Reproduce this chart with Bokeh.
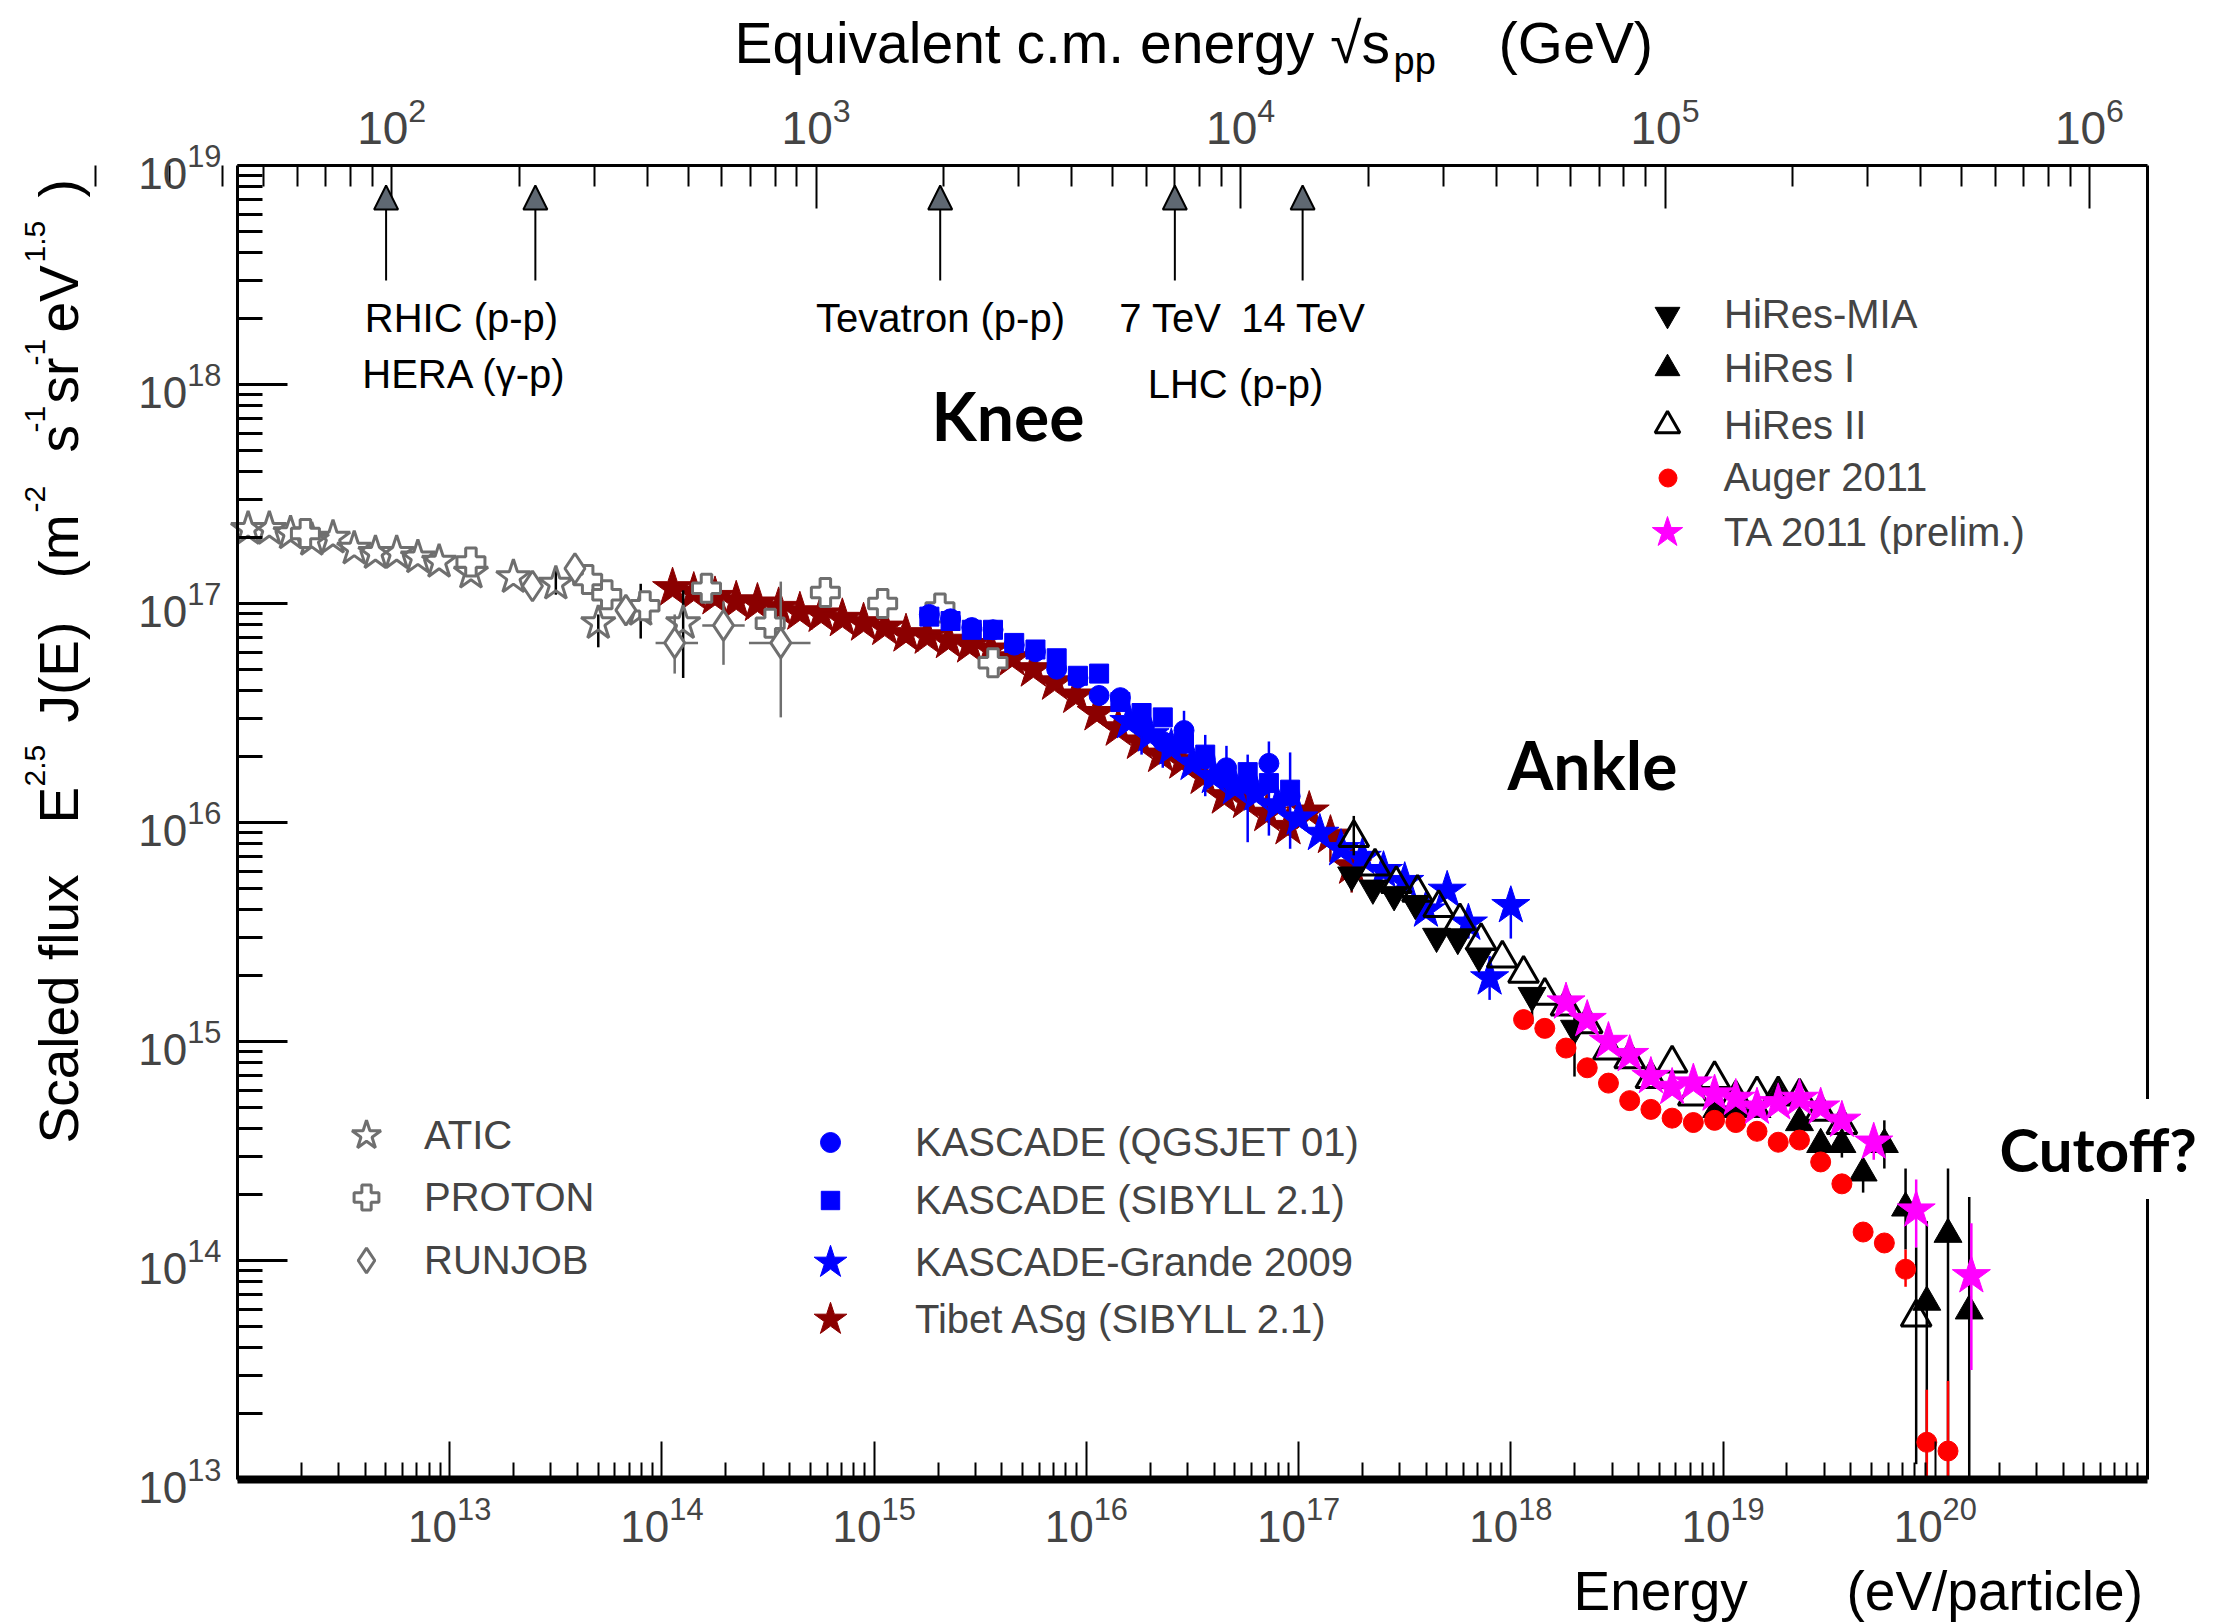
import numpy as np
from bokeh.plotting import figure
from bokeh.models import (Range1d, LogScale, LogAxis, LinearAxis, FixedTicker, ColumnDataSource,
                          Label, Legend, LegendItem, Arrow, NormalHead)
from bokeh.embed import file_html
from bokeh.resources import INLINE

# ---------------- data (log10 of energy in eV, log10 of E^2.5 J(E)) ----------------
atic_log10E = [12.05, 12.15, 12.25, 12.35, 12.45, 12.55, 12.65, 12.75, 12.85, 12.95, 13.10, 13.30, 13.50, 13.70, 13.90, 14.10]
atic_log10F = [17.34, 17.34, 17.32, 17.29, 17.30, 17.25, 17.23, 17.23, 17.21, 17.19, 17.14, 17.12, 17.09, 16.91, 16.97, 16.91]
atic_err_log10E = [13.50, 13.70, 13.90, 14.10]
atic_err_lo = [17.04, 16.80, 16.84, 16.66]
atic_err_hi = [17.16, 16.95, 17.09, 17.06]

proton_log10E = [12.32, 13.10, 13.65, 13.74, 13.92, 14.21, 14.51, 14.77, 15.04, 15.31, 15.56]
proton_log10F = [17.32, 17.19, 17.11, 17.04, 16.99, 17.07, 16.91, 17.05, 17.00, 16.98, 16.73]

runjob_log10E = [13.39, 13.59, 13.83, 14.06, 14.29, 14.56]
runjob_log10F = [17.08, 17.16, 16.97, 16.82, 16.90, 16.82]
runjob_err_log10E = [14.06, 14.29, 14.56]
runjob_err_log10F = [16.82, 16.90, 16.82]
runjob_err_lo = [16.68, 16.72, 16.48]
runjob_err_hi = [16.95, 17.01, 17.10]
runjob_err_Elo = [13.97, 14.19, 14.41]
runjob_err_Ehi = [14.17, 14.39, 14.70]

tibet_log10E = [14.05, 14.15, 14.25, 14.35, 14.45, 14.55, 14.65, 14.75, 14.85, 14.95, 15.05, 15.15, 15.25,
                15.35, 15.45, 15.55, 15.65, 15.75, 15.85, 15.95, 16.05, 16.15, 16.25, 16.35, 16.45, 16.55,
                16.65, 16.75, 16.85, 16.95, 17.05, 17.15, 17.25]
tibet_log10F = [17.07, 17.05, 17.03, 17.01, 17.00, 16.98, 16.96, 16.95, 16.93, 16.91, 16.89, 16.86, 16.85,
                16.83, 16.81, 16.79, 16.75, 16.70, 16.64, 16.58, 16.50, 16.43, 16.37, 16.31, 16.28, 16.21,
                16.12, 16.10, 16.04, 15.98, 16.05, 15.94, 15.80]
tibet_err_log10E = [17.15, 17.25]
tibet_err_lo = [15.82, 15.68]
tibet_err_hi = [15.99, 15.87]

kqgs_log10E = [15.26, 15.36, 15.46, 15.56, 15.66, 15.76, 15.86, 15.96, 16.06, 16.16, 16.26, 16.36, 16.46,
               16.56, 16.66, 16.76, 16.86, 16.96]
kqgs_log10F = [16.95, 16.93, 16.89, 16.88, 16.81, 16.78, 16.70, 16.66, 16.58, 16.57, 16.45, 16.37, 16.42,
               16.29, 16.25, 16.19, 16.27, 16.12]
kqgs_err_log10E = [16.26, 16.36, 16.46, 16.66, 16.86]
kqgs_err_lo = [16.31, 16.25, 16.35, 16.10, 15.94]
kqgs_err_hi = [16.45, 16.41, 16.51, 16.35, 16.37]

ksib_log10E = [15.26, 15.36, 15.46, 15.56, 15.66, 15.76, 15.86, 15.96, 16.06, 16.16, 16.26, 16.36, 16.46,
               16.56, 16.66, 16.76, 16.86, 16.96]
ksib_log10F = [16.94, 16.92, 16.88, 16.88, 16.82, 16.79, 16.75, 16.67, 16.68, 16.55, 16.50, 16.48, 16.36,
               16.31, 16.22, 16.23, 16.18, 16.15]
ksib_err_log10E = [16.56, 16.76, 16.96]
ksib_err_lo = [16.12, 15.91, 15.88]
ksib_err_hi = [16.40, 16.31, 16.32]

kg_log10E = [16.2, 16.3, 16.4, 16.5, 16.6, 16.7, 16.8, 16.9, 17.0, 17.1, 17.2, 17.3, 17.4, 17.5, 17.6,
             17.7, 17.8, 17.9, 18.0]
kg_log10F = [16.46, 16.40, 16.34, 16.27, 16.21, 16.16, 16.13, 16.08, 16.02, 15.95, 15.88, 15.84, 15.78,
             15.73, 15.60, 15.69, 15.54, 15.29, 15.62]
kg_err_log10E = [17.8, 17.9, 18.0]
kg_err_lo = [15.47, 15.19, 15.47]
kg_err_hi = [15.60, 15.39, 15.70]

hmia_log10E = [17.25, 17.35, 17.45, 17.55, 17.65, 17.75, 17.85, 18.10, 18.30]
hmia_log10F = [15.76, 15.70, 15.67, 15.63, 15.48, 15.47, 15.39, 15.21, 15.06]
hmia_err_log10E = [18.10, 18.30]
hmia_err_lo = [15.08, 14.84]
hmia_err_hi = [15.20, 15.20]

hires2_log10E = [17.26, 17.36, 17.46, 17.56, 17.66, 17.76, 17.86, 17.96, 18.06, 18.16, 18.26, 18.36, 18.46,
                 18.56, 18.66, 18.76, 18.86, 18.96, 19.06, 19.16, 19.26, 19.36, 19.46, 19.56, 19.91]
hires2_log10F = [15.93, 15.80, 15.72, 15.68, 15.61, 15.55, 15.46, 15.38, 15.31, 15.21, 15.16, 15.08, 14.96,
                 14.92, 14.83, 14.90, 14.75, 14.83, 14.74, 14.76, 14.76, 14.75, 14.68, 14.62, 13.74]
hires2_err_log10E = [17.26, 19.91]
hires2_err_lo = [15.85, 13.07]
hires2_err_hi = [16.03, 14.06]

hires1_log10E = [18.97, 19.06, 19.16, 19.26, 19.36, 19.46, 19.56, 19.66, 19.76, 19.86, 19.96, 20.06, 20.16]
hires1_log10F = [14.69, 14.70, 14.69, 14.75, 14.63, 14.53, 14.53, 14.40, 14.53, 14.24, 13.81, 14.12, 13.77]
hires1_err_log10E = [19.56, 19.66, 19.76, 19.86, 19.96, 20.06, 20.16]
hires1_err_lo = [14.47, 14.31, 14.42, 14.05, 13.07, 13.0, 13.0]
hires1_err_hi = [14.56, 14.45, 14.64, 14.42, 14.18, 14.42, 14.29]

auger_log10E = [18.06, 18.16, 18.26, 18.36, 18.46, 18.56, 18.66, 18.76, 18.86, 18.96, 19.06, 19.16, 19.26,
                19.36, 19.46, 19.56, 19.66, 19.76, 19.86, 19.96, 20.06]
auger_log10F = [15.10, 15.06, 14.97, 14.88, 14.81, 14.73, 14.69, 14.65, 14.63, 14.64, 14.63, 14.59, 14.54,
                14.55, 14.45, 14.35, 14.13, 14.08, 13.96, 13.17, 13.13]
auger_err_log10E = [19.66, 19.76, 19.86, 19.96, 20.06]
auger_err_lo = [14.10, 14.05, 13.88, 13.0, 13.0]
auger_err_hi = [14.16, 14.11, 14.05, 13.41, 13.45]

ta_log10E = [18.26, 18.36, 18.46, 18.56, 18.66, 18.76, 18.86, 18.96, 19.06, 19.16, 19.26, 19.36, 19.46,
             19.56, 19.71, 19.91, 20.17]
ta_log10F = [15.18, 15.10, 15.00, 14.94, 14.84, 14.79, 14.81, 14.76, 14.74, 14.70, 14.72, 14.74, 14.70,
             14.64, 14.54, 14.23, 13.93]
ta_err_log10E = [19.71, 19.91, 20.17]
ta_err_lo = [14.46, 14.06, 13.50]
ta_err_hi = [14.60, 14.37, 14.17]

collider_names = ["RHIC", "HERA", "Tevatron", "LHC 7 TeV", "LHC 14 TeV"]
collider_sqrts_GeV = [97, 218, 1960, 7000, 14000]

bottom_tick_exponents = list(range(13, 21))
left_tick_exponents = list(range(13, 20))
top_tick_exponents = list(range(2, 7))

# ---------------- layout ----------------
W, H = 2213, 1623
FL, FT, FW, FH = 237, 165, 1910, 1314      # the boxed plot region inside the canvas
X0, X1 = 12.0, 21.0                          # log10 E at the box edges
Y0, Y1 = 13.0, 19.0                          # log10 flux at the box edges
DX = FW / (X1 - X0)
DY = FH / (Y1 - Y0)
XL = X0 - FL / DX
XR = X0 + (W - FL) / DX
YT = Y1 + FT / DY
YB = Y1 - (H - FT) / DY
M_P = 0.938272  # GeV, proton mass for sqrt(s) = sqrt(2 m_p E)


def ex(px):
    return 10 ** (XL + px / DX)


def ey(py):
    return 10 ** (YT - py / DY)


FONT = "Liberation Sans"
GRAY = "#6f6f6f"

p = figure(x_axis_type="log", y_axis_type="log",
           x_range=Range1d(10 ** XL, 10 ** XR), y_range=Range1d(10 ** YB, 10 ** YT),
           frame_width=W, frame_height=H, min_border=0,
           min_border_left=0, min_border_top=0, min_border_right=0, min_border_bottom=0,
           output_backend="svg", toolbar_location=None,
           background_fill_color="white", border_fill_color="white", outline_line_color=None)
p.xgrid.visible = False
p.ygrid.visible = False

# bottom axis
xa = p.xaxis[0]
xa.fixed_location = 10 ** Y0
xa.bounds = (10 ** X0, 10 ** X1)
xa.ticker = FixedTicker(ticks=[10.0 ** k for k in bottom_tick_exponents],
                        minor_ticks=[m * 10.0 ** k for k in range(12, 21) for m in range(2, 10)])
xa.axis_line_width = 8
xa.major_tick_in = 38
xa.major_tick_out = 0
xa.minor_tick_in = 17
xa.minor_tick_out = 0
xa.major_tick_line_width = 2
xa.minor_tick_line_width = 2
xa.major_label_text_font = FONT
xa.major_label_text_font_size = "44px"
xa.major_label_standoff = 16

# left axis
ya = p.yaxis[0]
ya.fixed_location = 10 ** X0
ya.bounds = (10 ** Y0, 10 ** Y1)
ya.ticker = FixedTicker(ticks=[10.0 ** k for k in left_tick_exponents],
                        minor_ticks=[m * 10.0 ** k for k in range(13, 19) for m in range(2, 10)])
ya.axis_line_width = 3
ya.major_tick_in = 50
ya.major_tick_out = 0
ya.minor_tick_in = 25
ya.minor_tick_out = 0
ya.major_tick_line_width = 3
ya.minor_tick_line_width = 3
ya.major_label_text_font = FONT
ya.major_label_text_font_size = "44px"
ya.major_label_standoff = 16

# top axis: equivalent c.m. energy sqrt(s_pp) = sqrt(2 m_p E)
p.extra_x_ranges = {"sqrts": Range1d(np.sqrt(2 * M_P * 10 ** (XL - 9)), np.sqrt(2 * M_P * 10 ** (XR - 9)))}
p.extra_x_scales = {"sqrts": LogScale()}
ta_ax = LogAxis(x_range_name="sqrts",
                ticker=FixedTicker(ticks=[10.0 ** k for k in top_tick_exponents],
                                   minor_ticks=[m * 10.0 ** k for k in range(1, 7) for m in range(2, 10)]))
ta_ax.fixed_location = 10 ** Y1
ta_ax.bounds = (np.sqrt(2 * M_P * 10 ** (X0 - 9)), np.sqrt(2 * M_P * 10 ** (X1 - 9)))
ta_ax.axis_line_width = 3
ta_ax.major_tick_in = 43
ta_ax.major_tick_out = 0
ta_ax.minor_tick_in = 21
ta_ax.minor_tick_out = 0
ta_ax.major_tick_line_width = 2
ta_ax.minor_tick_line_width = 2
ta_ax.major_label_text_font = FONT
ta_ax.major_label_text_font_size = "46px"
ta_ax.major_label_standoff = 22
p.add_layout(ta_ax, "above")

# right frame line
ra = LinearAxis(ticker=FixedTicker(ticks=[]))
ra.fixed_location = 10 ** X1
ra.bounds = (10 ** Y0, 10 ** Y1)
ra.axis_line_width = 3
ra.major_tick_in = 0
ra.major_tick_out = 0
ra.minor_tick_in = 0
ra.minor_tick_out = 0
ra.major_label_text_font_size = "0px"
p.add_layout(ra, "right")


def src(logE, logF):
    return ColumnDataSource(dict(x=10 ** np.array(logE, dtype=float), y=10 ** np.array(logF, dtype=float)))


def errbars(logE, lo, hi, color, width=2.5):
    e = 10 ** np.array(logE, dtype=float)
    s = ColumnDataSource(dict(x=e, lo=10 ** np.array(lo, dtype=float), hi=10 ** np.array(hi, dtype=float)))
    p.segment(x0="x", y0="lo", x1="x", y1="hi", source=s, line_color=color, line_width=width)


# ---------------- series ----------------
errbars(tibet_err_log10E, tibet_err_lo, tibet_err_hi, "#8b0000")
r_tibet = p.scatter("x", "y", source=src(tibet_log10E, tibet_log10F), marker="star", size=42,
                    fill_color="#8b0000", line_color="#8b0000", line_width=1)

errbars(atic_err_log10E, atic_err_lo, atic_err_hi, "black")
r_atic = p.scatter("x", "y", source=src(atic_log10E, atic_log10F), marker="star", size=36,
                   fill_color=None, line_color=GRAY, line_width=3)
r_proton = p.scatter("x", "y", source=src(proton_log10E, proton_log10F), marker="plus", size=28,
                     fill_color="white", line_color=GRAY, line_width=3)
errbars(runjob_err_log10E, runjob_err_lo, runjob_err_hi, GRAY)
rj_h = ColumnDataSource(dict(y=10 ** np.array(runjob_err_log10F), x0=10 ** np.array(runjob_err_Elo),
                             x1=10 ** np.array(runjob_err_Ehi)))
p.segment(x0="x0", y0="y", x1="x1", y1="y", source=rj_h, line_color=GRAY, line_width=2.5)
r_runjob = p.scatter("x", "y", source=src(runjob_log10E, runjob_log10F), marker="diamond", size=30,
                     fill_color="white", line_color=GRAY, line_width=3)

errbars(kqgs_err_log10E, kqgs_err_lo, kqgs_err_hi, "#0000ff")
errbars(ksib_err_log10E, ksib_err_lo, ksib_err_hi, "#0000ff")
r_kqgs = p.scatter("x", "y", source=src(kqgs_log10E, kqgs_log10F), marker="circle", size=20,
                   fill_color="#0000ff", line_color="#0000ff")
r_ksib = p.scatter("x", "y", source=src(ksib_log10E, ksib_log10F), marker="square", size=19,
                   fill_color="#0000ff", line_color="#0000ff")
errbars(kg_err_log10E, kg_err_lo, kg_err_hi, "#0000ff")
r_kg = p.scatter("x", "y", source=src(kg_log10E, kg_log10F), marker="star", size=40,
                 fill_color="#0000ff", line_color="#0000ff")

errbars(hmia_err_log10E, hmia_err_lo, hmia_err_hi, "black")
r_hmia = p.scatter("x", "y", source=src(hmia_log10E, hmia_log10F), marker="inverted_triangle", size=28,
                   fill_color="black", line_color="black")
errbars(hires2_err_log10E, hires2_err_lo, hires2_err_hi, "black")
r_h2 = p.scatter("x", "y", source=src(hires2_log10E, hires2_log10F), marker="triangle", size=30,
                 fill_color=None, line_color="black", line_width=3)
errbars(hires1_err_log10E, hires1_err_lo, hires1_err_hi, "black")
r_h1 = p.scatter("x", "y", source=src(hires1_log10E, hires1_log10F), marker="triangle", size=28,
                 fill_color="black", line_color="black")
errbars(auger_err_log10E, auger_err_lo, auger_err_hi, "#ff0000")
r_auger = p.scatter("x", "y", source=src(auger_log10E, auger_log10F), marker="circle", size=20,
                    fill_color="#ff0000", line_color="#ff0000")
errbars(ta_err_log10E, ta_err_lo, ta_err_hi, "#ff00ff")
r_ta = p.scatter("x", "y", source=src(ta_log10E, ta_log10F), marker="star", size=40,
                 fill_color="#ff00ff", line_color="#ff00ff")

# ---------------- collider arrows ----------------
arr = ColumnDataSource(dict(x=collider_sqrts_GeV, y0=[ey(280)] * len(collider_sqrts_GeV),
                            y1=[ey(185)] * len(collider_sqrts_GeV)))
p.add_layout(Arrow(x_start="x", y_start="y0", x_end="x", y_end="y1", source=arr, x_range_name="sqrts",
                   line_color="black", line_width=2,
                   end=NormalHead(size=24, fill_color="#5f6872", line_color="black", line_width=2)))


def lab(text, px, py, fs=40, align="left", font=FONT, style="normal", rotated=False, **kw):
    # (px, py): canvas pixel of the text baseline start; text drawn with a "middle" baseline
    k = 0.39 if font == "Lato" else 0.35
    if rotated:
        ax, ay, ang = px - k * fs, py, np.pi / 2
    else:
        ax, ay, ang = px, py - k * fs, 0.0
    l = Label(x=ex(ax), y=ey(ay), text=text, text_font=font, text_font_size=f"{fs}px", text_align=align,
              text_baseline="middle", text_font_style=style, angle=ang, text_color="black", **kw)
    p.add_layout(l)
    return l


lab("RHIC (p-p)", 461, 331, align="center")
lab("HERA (\u03b3-p)", 464, 387, align="center")
lab("Tevatron (p-p)", 940, 331, align="center")
lab("7 TeV", 1170, 331, align="center")
lab("14 TeV", 1303, 331, align="center")
lab("LHC (p-p)", 1235, 397, align="center")

lab("Knee", 931, 441, fs=66, font="Lato", style="bold")
lab("Ankle", 1507, 790, fs=66, font="Lato", style="bold")
lab("Cutoff?", 1999 - 14, 1172, fs=60, font="Lato", style="bold",
    background_fill_color="white", padding=14)

# top title
lab("Equivalent c.m. energy \u221as", 734, 62, fs=57)
lab("pp", 1393, 74, fs=38)
lab("(GeV)", 1498, 62, fs=58)

# bottom title
lab("Energy", 1573, 1610, fs=55)
lab("(eV/particle)", 1846, 1610, fs=55)

# left title, rotated
for txt, py in [("Scaled flux", 1143), ("E", 823), ("J(E)", 722), ("(m", 578), ("s", 452),
                ("sr", 403), ("eV", 332), (")", 197)]:
    lab(txt, 78, py, fs=55, rotated=True)
for txt, py in [("2.5", 786), ("-2", 512), ("-1", 432), ("-1", 365), ("1.5", 262)]:
    lab(txt, 45, py, fs=30, rotated=True)

# ---------------- legends (one row each: label, renderer, marker centre px, glyph box px) ----------------
legend_rows = [
    ("ATIC", r_atic, 366, 1135, 76, 424),
    ("PROTON", r_proton, 366, 1197, 62, 424),
    ("RUNJOB", r_runjob, 366, 1260, 62, 424),
    ("KASCADE (QGSJET 01)", r_kqgs, 830, 1142, 50, 915),
    ("KASCADE (SIBYLL 2.1)", r_ksib, 830, 1200, 46, 915),
    ("KASCADE-Grande 2009", r_kg, 830, 1262, 86, 915),
    ("Tibet ASg (SIBYLL 2.1)", r_tibet, 830, 1319, 86, 915),
    ("HiRes-MIA", r_hmia, 1667, 314, 62, 1724),
    ("HiRes I", r_h1, 1667, 368, 62, 1724),
    ("HiRes II", r_h2, 1667, 425, 62, 1724),
    ("Auger 2011", r_auger, 1667, 477, 45, 1724),
    ("TA 2011 (prelim.)", r_ta, 1667, 532, 80, 1724),
]
for label, rend, cx, cy, g, tx in legend_rows:
    left = cx - g / 2
    lg = Legend(items=[LegendItem(label=label, renderers=[rend])],
                location=(left, H - (cy + g / 2)), glyph_width=g, glyph_height=g, label_height=g,
                label_standoff=int(round(tx - left - g)),
                border_line_color=None, background_fill_alpha=0, padding=0, spacing=0, margin=0,
                label_text_font=FONT, label_text_font_size="40px")
    p.add_layout(lg)

open("out.html", "w").write(file_html(p, INLINE))
